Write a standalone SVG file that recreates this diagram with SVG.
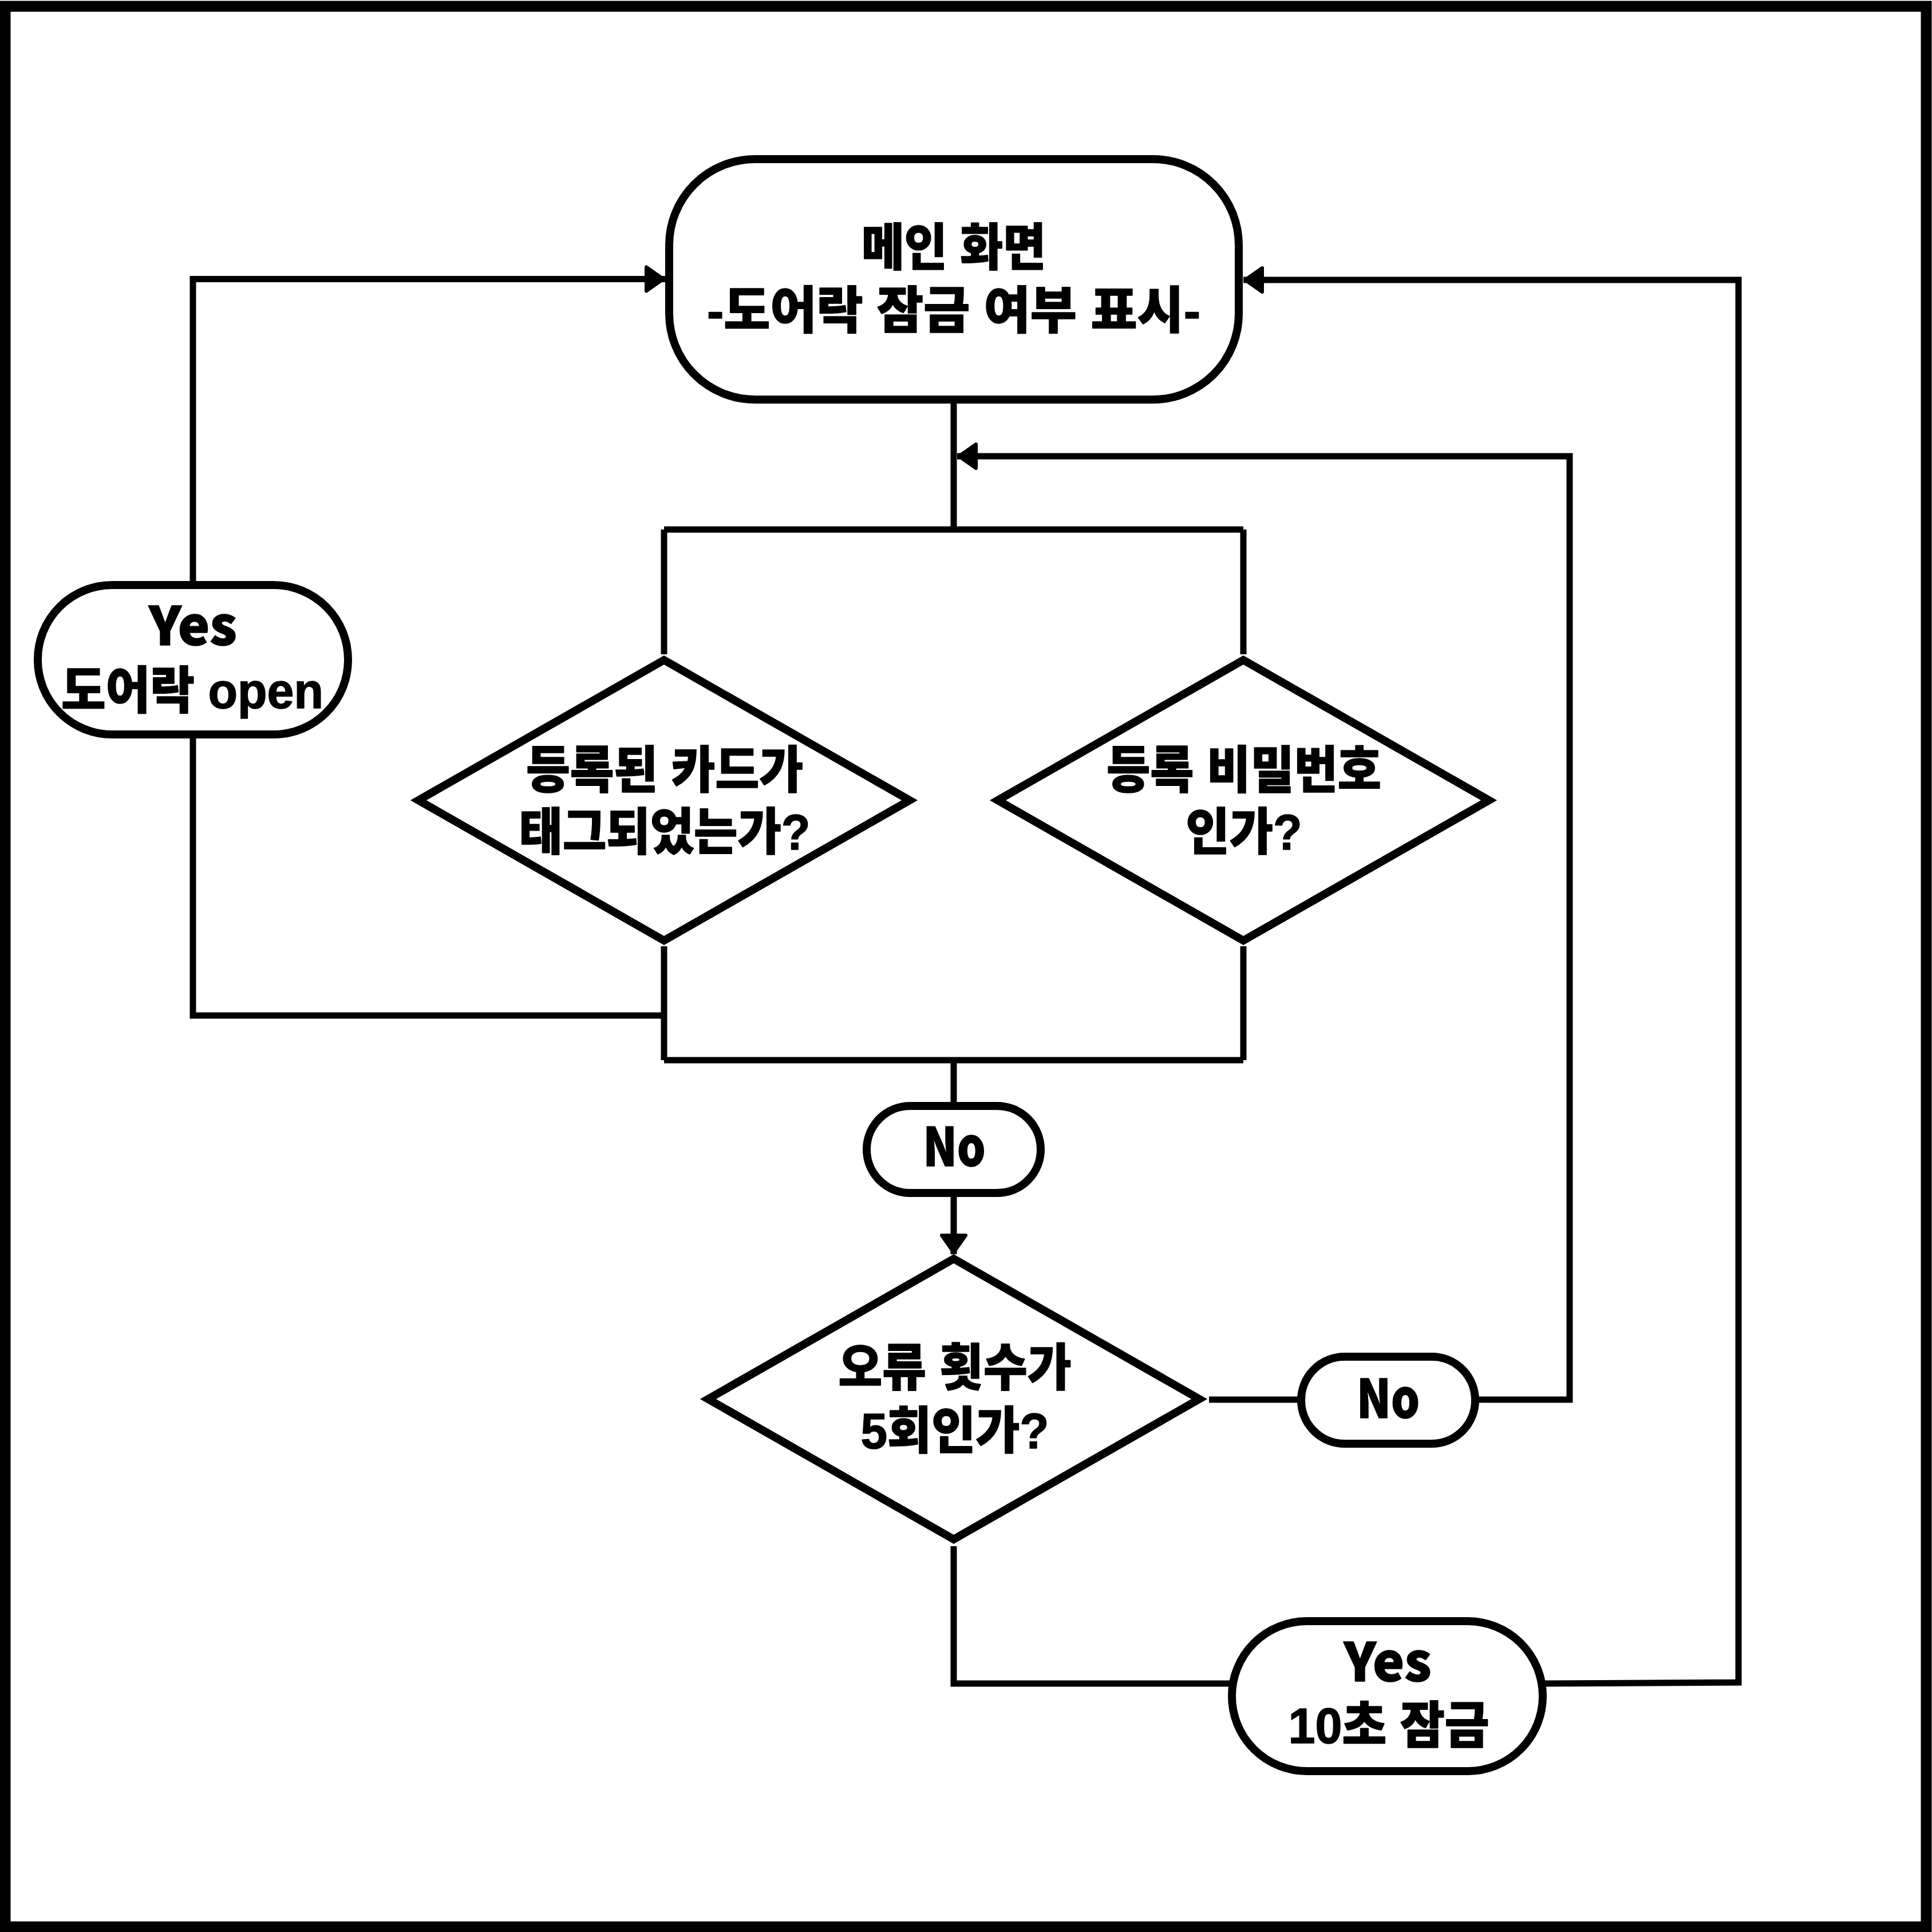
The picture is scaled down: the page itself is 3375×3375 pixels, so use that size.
<svg xmlns="http://www.w3.org/2000/svg" width="3375" height="3375" viewBox="0 0 3375 3375">
<style>
.shape{fill:#fff;stroke:#000;stroke-width:14;stroke-linejoin:miter}
.conn{fill:none;stroke:#000;stroke-width:11;stroke-linejoin:miter;stroke-linecap:butt}
.lbl{font-family:"Liberation Sans","Noto Sans CJK KR",sans-serif;font-weight:900;font-size:88px;fill:#000;stroke:#000;stroke-width:1.5;stroke-linejoin:round;text-anchor:middle}
.lat{font-family:"Noto Sans CJK KR","Liberation Sans",sans-serif;font-size:92px}
</style>
<defs>
<marker id="arrow" viewBox="-40 -30 45 60" refX="0" refY="0" markerWidth="45" markerHeight="60" markerUnits="userSpaceOnUse" orient="auto">
<path d="M-3,0 L-33,-21 L-33,21 Z" fill="#000" stroke="#000" stroke-width="6" stroke-linejoin="round"/>
</marker>
</defs>
<rect x="0" y="0" width="3375" height="3375" fill="#fff"/>
<rect x="9" y="11" width="3356" height="3355" fill="none" stroke="#000" stroke-width="19"/>

<g id="connectors">
<path class="conn" d="M1666,699 V925"/>
<path class="conn" d="M1160,925 H2172"/>
<path class="conn" d="M1160,925 V1143"/>
<path class="conn" d="M2172,925 V1143"/>
<path class="conn" d="M1160,1653 V1852"/>
<path class="conn" d="M2172,1653 V1852"/>
<path class="conn" d="M1160,1852 H2172"/>
<path class="conn" d="M1666,1852 V1932"/>
<path class="conn" d="M1160,1774 H337 V1283"/>
<path class="conn" d="M337,1022 V487.5 H1162" marker-end="url(#arrow)"/>
<path class="conn" d="M1666,2084 V2191" marker-end="url(#arrow)"/>
<path class="conn" d="M1666,2701 V2941 H2152"/>
<path class="conn" d="M2112,2445 H2273"/>
<path class="conn" d="M2577,2445 H2742 V797 H1672" marker-end="url(#arrow)"/>
<path class="conn" d="M2695,2941 L3037,2939 V489 H2172" marker-end="url(#arrow)"/>
</g>

<g id="main-screen">
<rect class="shape" x="1169" y="278" width="995" height="420" rx="150" ry="150"/>
<text class="lbl"><tspan x="1666" y="463" textLength="322" lengthAdjust="spacingAndGlyphs">메인 화면</tspan><tspan x="1666" y="573" textLength="862" lengthAdjust="spacingAndGlyphs">-도어락 잠금 여부 표시-</tspan></text>
</g>

<g id="card-decision">
<polygon class="shape" points="1160,1153 1589,1398 1160,1643 731,1398"/>
<text class="lbl"><tspan x="1161" y="1376" textLength="484" lengthAdjust="spacingAndGlyphs">등록된 카드가</tspan><tspan x="1161" y="1484" textLength="509" lengthAdjust="spacingAndGlyphs">태그되었는가?</tspan></text>
</g>

<g id="password-decision">
<polygon class="shape" points="2172,1153 2601,1398 2172,1643 1743,1398"/>
<text class="lbl"><tspan x="2173" y="1376" textLength="480" lengthAdjust="spacingAndGlyphs">등록 비밀번호</tspan><tspan x="2173" y="1484" textLength="203" lengthAdjust="spacingAndGlyphs">인가?</tspan></text>
</g>

<g id="yes-open">
<rect class="shape" x="66" y="1022" width="542" height="261" rx="130" ry="130"/>
<text class="lbl"><tspan class="lat" x="337" y="1127" textLength="154" lengthAdjust="spacingAndGlyphs">Yes</tspan><tspan x="336" y="1237" textLength="458" lengthAdjust="spacingAndGlyphs">도어락 open</tspan></text>
</g>

<g id="no-center">
<rect class="shape" x="1514" y="1932" width="304" height="152" rx="76" ry="76"/>
<text class="lbl lat" x="1667" y="2037" textLength="109" lengthAdjust="spacingAndGlyphs">No</text>
</g>

<g id="error-decision">
<polygon class="shape" points="1666,2199 2095,2444 1666,2689 1237,2444"/>
<text class="lbl"><tspan x="1668" y="2420" textLength="407" lengthAdjust="spacingAndGlyphs">오류 횟수가</tspan><tspan x="1668" y="2530" textLength="329" lengthAdjust="spacingAndGlyphs">5회인가?</tspan></text>
</g>

<g id="no-right">
<rect class="shape" x="2273" y="2370" width="304" height="152" rx="76" ry="76"/>
<text class="lbl lat" x="2425" y="2477" textLength="110" lengthAdjust="spacingAndGlyphs">No</text>
</g>

<g id="yes-lock">
<rect class="shape" x="2152" y="2832" width="543" height="262" rx="131" ry="131"/>
<text class="lbl"><tspan class="lat" x="2424" y="2937" textLength="153" lengthAdjust="spacingAndGlyphs">Yes</tspan><tspan x="2426" y="3045" textLength="351" lengthAdjust="spacingAndGlyphs">10초 잠금</tspan></text>
</g>
</svg>
